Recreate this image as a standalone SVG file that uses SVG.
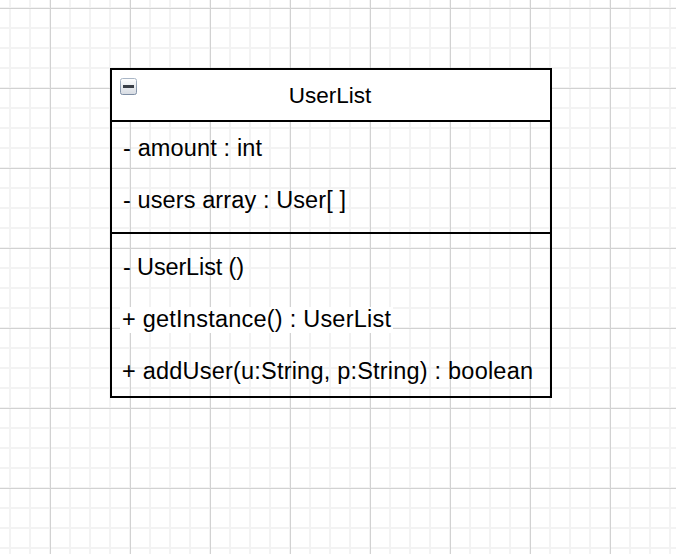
<svg xmlns="http://www.w3.org/2000/svg" width="676" height="554" viewBox="0 0 676 554">
  <defs>
    <pattern id="minor" patternUnits="userSpaceOnUse" x="10" y="28" width="20" height="20">
      <rect x="0" y="0" width="1" height="20" fill="#f3f3f3"/>
      <rect x="19" y="0" width="1" height="20" fill="#f3f3f3"/>
      <rect x="0" y="0" width="20" height="1" fill="#f3f3f3"/>
      <rect x="0" y="19" width="20" height="1" fill="#f3f3f3"/>
    </pattern>
    <pattern id="major" patternUnits="userSpaceOnUse" x="50" y="8" width="80" height="80">
      <rect x="0" y="0" width="1" height="80" fill="#d2d2d2"/>
      <rect x="0" y="0" width="80" height="1" fill="#d2d2d2"/>
    </pattern>
    <linearGradient id="iconFill" x1="0" y1="0" x2="0" y2="1">
      <stop offset="0" stop-color="#ffffff"/>
      <stop offset="1" stop-color="#d6dbe2"/>
    </linearGradient>
    <linearGradient id="iconStroke" x1="0" y1="0" x2="0" y2="1">
      <stop offset="0" stop-color="#a9b6c6"/>
      <stop offset="1" stop-color="#7d8da3"/>
    </linearGradient>
  </defs>
  <style>
    .t { font-family: "Liberation Sans", Arial, Helvetica, sans-serif; font-size: 23.5px; fill: #000; }
    .h { font-family: "Liberation Sans", Arial, Helvetica, sans-serif; font-size: 22.5px; fill: #000; }
    .edge { fill: none; stroke: #000; stroke-width: 2; }
  </style>
  <rect x="0" y="0" width="676" height="554" fill="#ffffff"/>
  <rect x="0" y="0" width="676" height="554" fill="url(#minor)"/>
  <rect x="0" y="0" width="676" height="554" fill="url(#major)"/>

  <g id="UserList">
    <rect x="111" y="69" width="440" height="52" fill="#ffffff" stroke="none"/>
    <rect x="111" y="69" width="440" height="328" class="edge"/>
    <line x1="110" y1="121" x2="552" y2="121" class="edge"/>
    <line x1="110" y1="233" x2="552" y2="233" class="edge"/>
    <g id="collapse-icon">
      <rect x="120.5" y="78.5" width="16" height="16" rx="2" fill="url(#iconFill)" stroke="url(#iconStroke)" stroke-width="1"/>
      <rect x="123" y="85" width="11" height="3" fill="#3a3f47"/>
    </g>
    <text class="h" x="330" y="103" text-anchor="middle">UserList</text>
    <text class="t" x="123" y="156" textLength="139" lengthAdjust="spacing">- amount : int</text>
    <text class="t" x="123" y="208" textLength="223" lengthAdjust="spacing">- users array : User[ ]</text>
    <text class="t" x="123" y="275" textLength="121" lengthAdjust="spacing">- UserList ()</text>
    <rect x="120" y="307" width="273" height="26" fill="#ffffff"/>
    <text class="t" x="122" y="327" textLength="269" lengthAdjust="spacing">+ getInstance() : UserList</text>
    <text class="t" x="122" y="379" textLength="411" lengthAdjust="spacing">+ addUser(u:String, p:String) : boolean</text>
  </g>
  <g id="connectors"/>
</svg>
